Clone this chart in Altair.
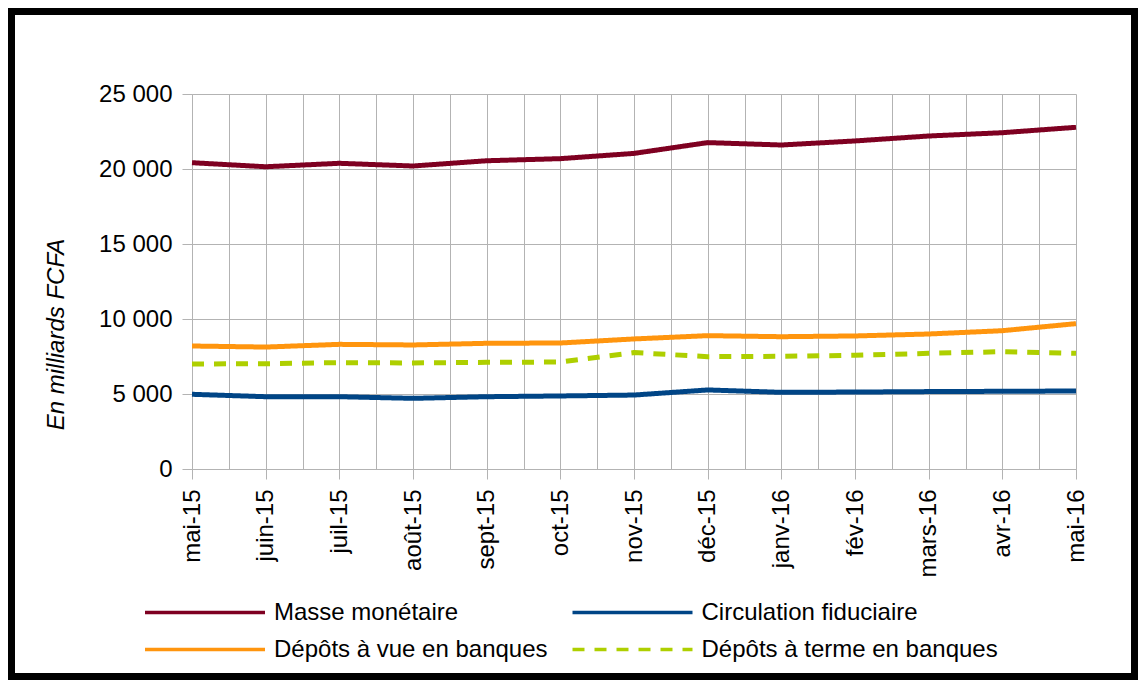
import json
import altair as alt
import pandas as pd

months = ["mai-15", "juin-15", "juil-15", "août-15", "sept-15", "oct-15", "nov-15",
          "déc-15", "janv-16", "fév-16", "mars-16", "avr-16", "mai-16"]
# order chosen so that the two-column legend reads like the original
series = ["Masse monétaire", "Dépôts à vue en banques",
          "Circulation fiduciaire", "Dépôts à terme en banques"]
masse = [20420, 20150, 20380, 20200, 20550, 20690, 21040, 21760, 21600, 21870, 22200, 22420, 22780]
vue = [8200, 8130, 8310, 8270, 8380, 8400, 8670, 8890, 8820, 8870, 9000, 9220, 9690]
circ = [4980, 4820, 4820, 4710, 4820, 4870, 4930, 5270, 5110, 5130, 5160, 5180, 5200]
terme = [7000, 7020, 7090, 7070, 7110, 7130, 7760, 7490, 7510, 7580, 7710, 7820, 7710]
colors = ["#7e0021", "#ff950e", "#004586", "#aecf00"]
dashes = [[1, 0], [1, 0], [1, 0], [12, 10]]
y_ticks = [0, 5000, 10000, 15000, 20000, 25000]

rows = []
for s, vals in zip(series, [masse, vue, circ, terme]):
    for i, v in enumerate(vals):
        rows.append({"idx": i, "month": months[i], "serie": s, "value": v})
df = pd.DataFrame(rows)

FONT = "Liberation Sans"
GRID = "#b3b3b3"
month_js = json.dumps(months, ensure_ascii=False)

x_axis = alt.Axis(
    values=[i / 2 for i in range(25)],
    grid=True, gridColor=GRID, gridWidth=1,
    domainColor=GRID, tickColor=GRID, tickSize=10,
    tickOpacity={"condition": {"test": "datum.value % 1 === 0", "value": 1}, "value": 0},
    labelExpr=f"datum.value % 1 === 0 ? {month_js}[datum.value] : ''",
    labelAngle=270, labelAlign="right", labelBaseline="middle",
    labelFont=FONT, labelFontSize=24, labelColor="black", labelPadding=10,
    labelOverlap=False, labelFlush=False,
    title=None,
)

y_axis = alt.Axis(
    values=y_ticks,
    grid=True, gridColor=GRID, gridWidth=1,
    domainColor=GRID, tickColor=GRID, tickSize=10,
    labelExpr="replace(format(datum.value, ','), ',', ' ')",
    labelFont=FONT, labelFontSize=24, labelColor="black", labelPadding=10,
    title="En milliards FCFA", titleFont=FONT, titleFontSize=24, titleFontStyle="italic",
    titleFontWeight="normal", titleColor="black", titleAngle=270,
    titleX=-129, titleY=240, titleAlign="center", titleBaseline="alphabetic",
)

legend = alt.Legend(
    title=None, orient="none", legendX=-49, legendY=500, columns=2,
    symbolType="stroke", symbolSize=14400, symbolStrokeWidth=3.5,
    clipHeight=37, rowPadding=0, columnPadding=22.5, padding=0,
    labelFont=FONT, labelFontSize=24, labelColor="black", labelOffset=7, labelLimit=500,
)

lines = alt.Chart(df).mark_line(strokeWidth=5, strokeCap="butt", strokeJoin="round").encode(
    x=alt.X("idx:Q", scale=alt.Scale(domain=[0, 12], nice=False, zero=False), axis=x_axis),
    y=alt.Y("value:Q", scale=alt.Scale(domain=[0, 25000], nice=False), axis=y_axis),
    color=alt.Color("serie:N", scale=alt.Scale(domain=series, range=colors), legend=legend),
    strokeDash=alt.StrokeDash("serie:N", scale=alt.Scale(domain=series, range=dashes),
                              legend=legend),
    order="idx:Q",
)

frame = alt.Chart(alt.Data(values=[{"a": 1}])).mark_rect(
    filled=False, stroke="black", strokeWidth=7
).encode(
    x=alt.value(-180.5), x2=alt.value(942.5), y=alt.value(-82.5), y2=alt.value(582.5)
)

chart = alt.layer(frame, lines).properties(
    width=884, height=375,
    padding={"left": 184, "top": 86, "right": 62, "bottom": 211},
    autosize=alt.AutoSizeParams(type="none"),
    background="white",
).configure_view(strokeWidth=0)

chart.save("out.html", embed_options={"renderer": "svg", "actions": False})
